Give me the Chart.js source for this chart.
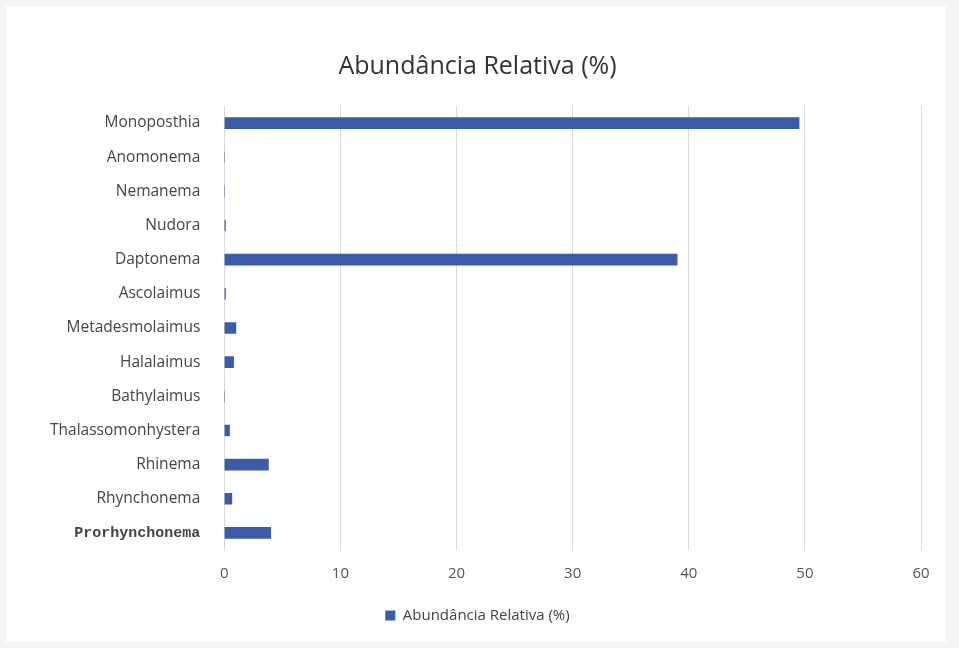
<!DOCTYPE html>
<html lang="pt-br">
<head>
    <meta charset="UTF-8">
    <title>Abundância Relativa (%)</title>
    <script src="https://cdn.jsdelivr.net/npm/chart.js"></script>
    <style>
        html, body { margin: 0; padding: 0; background: #f4f4f4; }
        .box { position: absolute; left: 6px; top: 6px; width: 940px; height: 636px; background: #fff; }
        .grafico { position: relative; width: 940px; height: 636px; }
    </style>
</head>
<body>
    <div class="box">
        <div class="grafico">
            <canvas id="chartAbundancia"></canvas>
        </div>
    </div>

<script>
    // Gêneros e abundância relativa (%)
    const generos = [
        'Monoposthia', 'Anomonema', 'Nemanema', 'Nudora', 'Daptonema', 'Ascolaimus',
        'Metadesmolaimus', 'Halalaimus', 'Bathylaimus', 'Thalassomonhystera',
        'Rhinema', 'Rhynchonema', 'Prorhynchonema'
    ]
    const abundancia = [49.5, 0, 0, 0.1, 39.0, 0.1, 1.0, 0.8, 0, 0.45, 3.8, 0.65, 4.0]
    const ticksX = [0, 10, 20, 30, 40, 50, 60]

    const nomeSerie = 'Abundância Relativa (%)'
    const corBarra = '#3c5ca8'
    const fonte = '"Open Sans", "Liberation Sans", sans-serif'

    const configAbundancia = {
        type: 'bar',
        data: {
            labels: generos,
            datasets: [{
                label: nomeSerie,
                data: abundancia,
                backgroundColor: corBarra,
                borderWidth: 0,
                barThickness: 11
            }]
        },
        options: {
            indexAxis: 'y',
            responsive: true,
            maintainAspectRatio: false,
            animation: false,
            layout: { padding: { left: 28, right: 25, top: 14, bottom: 9 } },
            plugins: {
                title: {
                    display: true,
                    text: nomeSerie,
                    color: '#333',
                    font: { family: fonte, size: 25, weight: 'normal' },
                    padding: { top: 32, bottom: 24 }
                },
                legend: {
                    position: 'bottom',
                    labels: {
                        color: '#444',
                        font: { family: fonte, size: 15 },
                        boxWidth: 10,
                        boxHeight: 10,
                        padding: 10
                    }
                },
                tooltip: { enabled: false }
            },
            scales: {
                x: {
                    min: 0,
                    max: 60,
                    afterBuildTicks: function (axis) {
                        axis.ticks = ticksX.map(v => ({ value: v }))
                    },
                    grid: { color: '#d9d9d9', drawTicks: false },
                    border: { display: false },
                    ticks: {
                        color: '#555',
                        padding: 15,
                        font: { family: fonte, size: 15 }
                    }
                },
                y: {
                    grid: { display: false },
                    border: { color: '#d9d9d9' },
                    ticks: {
                        color: '#444',
                        padding: 16,
                        autoSkip: false,
                        font: function (ctx) {
                            if (ctx.index === generos.length - 1) {
                                return { family: '"Liberation Mono", monospace', size: 15, weight: 'bold' }
                            }
                            return { family: fonte, size: 15.5 }
                        }
                    }
                }
            }
        }
    }

    new Chart(document.getElementById('chartAbundancia'), configAbundancia)
</script>
</body>
</html>
